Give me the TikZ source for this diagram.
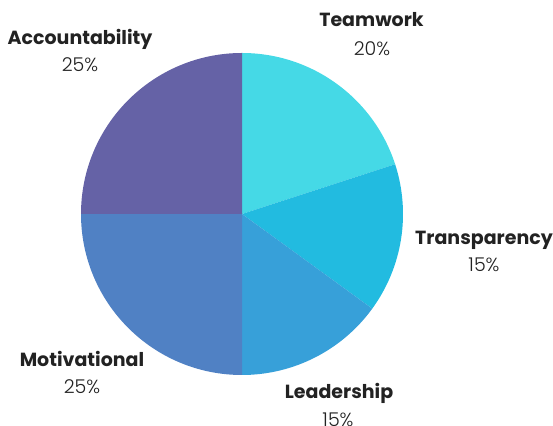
\documentclass[tikz,border=0pt]{standalone}
\usepackage{fontspec}
\setmainfont{Poppins}
\newfontfamily\lightfont{Poppins}[UprightFont={* Light}]
\definecolor{cTeam}{HTML}{45D9E6}
\definecolor{cTrans}{HTML}{22BBE0}
\definecolor{cLead}{HTML}{37A0D9}
\definecolor{cMot}{HTML}{5081C4}
\definecolor{cAcc}{HTML}{6562A6}
\definecolor{txt}{HTML}{222222}
\tikzset{
  lbl/.style={anchor=base, inner sep=0pt, text=txt, font=\fontsize{19}{22}\selectfont\bfseries},
  pct/.style={anchor=base, inner sep=0pt, text=txt, font=\fontsize{19}{22}\selectfont\lightfont},
}
\begin{document}
\begin{tikzpicture}[x=1pt,y=1pt]
\useasboundingbox (0,0) rectangle (553,425);
\coordinate (c) at (242,211);
\def\R{161}
\fill[cTeam] (c) -- ++(90:\R) arc[start angle=90, end angle=18, radius=\R] -- cycle;
\fill[cTrans] (c) -- ++(18:\R) arc[start angle=18, end angle=-36, radius=\R] -- cycle;
\fill[cLead] (c) -- ++(-36:\R) arc[start angle=-36, end angle=-90, radius=\R] -- cycle;
\fill[cMot] (c) -- ++(-90:\R) arc[start angle=-90, end angle=-180, radius=\R] -- cycle;
\fill[cAcc] (c) -- ++(180:\R) arc[start angle=180, end angle=90, radius=\R] -- cycle;
\node[lbl] (lteam) at (371.5,398) {Teamwork};
\node[pct] (pteam) at (372,369) {20\%};
\node[lbl] (ltrans) at (484,180) {Transparency};
\node[pct] (ptrans) at (484,153) {15\%};
\node[lbl] (llead) at (339,27) {Leadership};
\node[pct] (plead) at (338,-1) {15\%};
\node[lbl] (lmot) at (82,59) {Motivational};
\node[pct] (pmot) at (82,31) {25\%};
\node[lbl] (lacc) at (80,380) {Accountability};
\node[pct] (pacc) at (80,353) {25\%};
\end{tikzpicture}
\end{document}
